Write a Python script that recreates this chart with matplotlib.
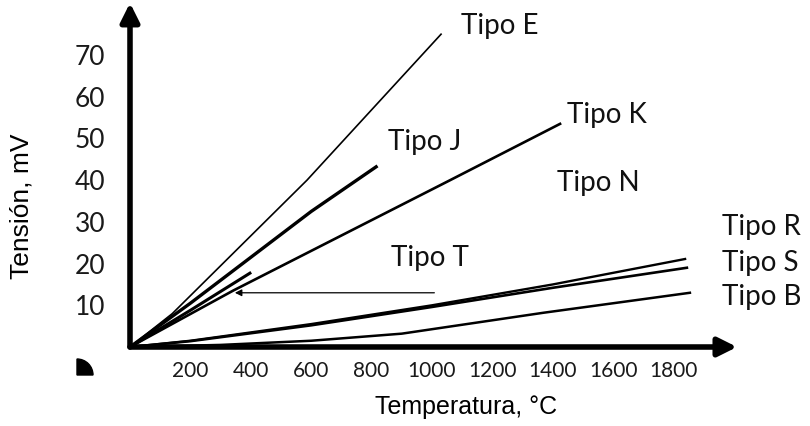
import matplotlib
matplotlib.use("Agg")
import matplotlib.pyplot as plt
from matplotlib.patches import FancyArrowPatch, Wedge

# ---- data ----
e_temp = [0, 140, 586, 1030]
e_mv = [0, 8, 40, 75]
j_temp = [0, 200, 400, 600, 815]
j_mv = [0, 10.5, 21.5, 32.5, 43.2]
k_temp = [0, 341, 1060, 1424]
k_mv = [0, 13.5, 40, 53.5]
t_temp = [0, 200, 397]
t_mv = [0, 8.8, 17.7]
r_temp = [0, 200, 600, 1000, 1400, 1838]
r_mv = [0, 1.5, 5.5, 10.0, 15.0, 21.1]
s_temp = [0, 200, 600, 1000, 1400, 1844]
s_mv = [0, 1.4, 5.2, 9.6, 14.2, 19.0]
b_temp = [0, 300, 600, 900, 1368, 1854]
b_mv = [0, 0.5, 1.5, 3.2, 8.2, 13.0]

x_ticks = [200, 400, 600, 800, 1000, 1200, 1400, 1600, 1800]
y_ticks = [10, 20, 30, 40, 50, 60, 70]

labels = ["Tipo E", "Tipo J", "Tipo K", "Tipo N", "Tipo T", "Tipo R", "Tipo S", "Tipo B"]
label_x = [1225, 977, 1579, 1550, 993, 1960, 1960, 1960]
label_y = [77, 49.2, 55.6, 39.3, 21.3, 28.8, 20.1, 12.0]

arrow_from = (1017, 13)
arrow_to = (338, 13)

W, H = 810, 426
fig = plt.figure(figsize=(W / 100, H / 100), dpi=100)
ax = fig.add_axes([130 / W, 79 / H, 604 / W, 342 / H])
ax.set_xlim(0, 2000)
ax.set_ylim(0, 82)
for sp in ax.spines.values():
    sp.set_visible(False)

tick_font = "Lato"
ax.set_xticks(x_ticks)
ax.set_xticklabels([str(v) for v in x_ticks], fontsize=15, family=tick_font, color="#1a1a1a")
ax.set_yticks(y_ticks)
ax.set_yticklabels([str(v) for v in y_ticks], fontsize=19, family=tick_font, color="#1a1a1a")
ax.tick_params(axis="both", length=0)
ax.tick_params(axis="x", pad=10)
ax.tick_params(axis="y", pad=18)

# axis arrows
ax.add_patch(FancyArrowPatch((0, 0), (2010, 0), arrowstyle="-|>", mutation_scale=28,
                             lw=4, color="black", clip_on=False, shrinkA=0, shrinkB=0))
ax.add_patch(FancyArrowPatch((0, 0), (0, 82.5), arrowstyle="-|>", mutation_scale=28,
                             lw=4, color="black", clip_on=False, shrinkA=0, shrinkB=0))

ax.plot(e_temp, e_mv, color="black", lw=1.2, clip_on=False)
ax.plot(j_temp, j_mv, color="black", lw=2.4, clip_on=False)
ax.plot(k_temp, k_mv, color="black", lw=1.9, clip_on=False)
ax.plot(t_temp, t_mv, color="black", lw=2.2, clip_on=False)
ax.plot(r_temp, r_mv, color="black", lw=1.7, clip_on=False)
ax.plot(s_temp, s_mv, color="black", lw=1.9, clip_on=False)
ax.plot(b_temp, b_mv, color="black", lw=1.8, clip_on=False)

for txt, x, y in zip(labels, label_x, label_y):
    ha = "left" if x > 1900 else "center"
    ax.text(x, y, txt, fontsize=20, family=tick_font, color="#111111",
            ha=ha, va="center", clip_on=False)

ax.annotate("", xy=arrow_to, xytext=arrow_from,
            arrowprops=dict(arrowstyle="-|>", lw=0.9, color="black", mutation_scale=10))

fig.text(466 / W, 1 - 407 / H, "Temperatura, °C", fontsize=18, family="Liberation Sans",
         ha="center", va="center")
fig.text(22 / W, 1 - 206 / H, "Tensión, mV", fontsize=19, family="Liberation Sans",
         ha="center", va="center", rotation=90)

# small decorative quarter-disc at lower left
fig.patches.append(Wedge((0.77, (H - 375) / 100), 0.16, 0, 90, color="black",
                         transform=fig.dpi_scale_trans))

fig.savefig("out.png", dpi=100)
